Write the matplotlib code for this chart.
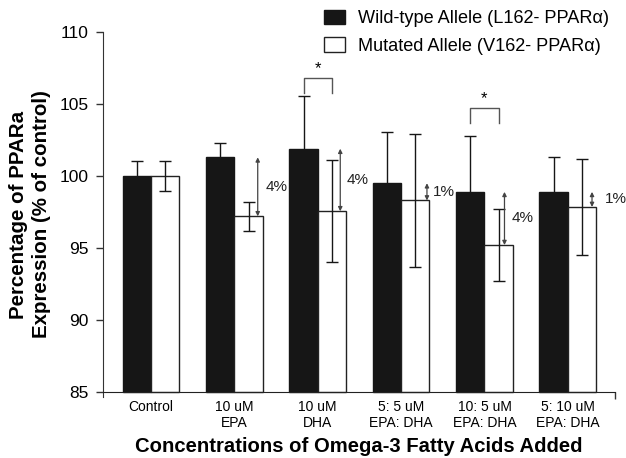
import numpy as np
import matplotlib
matplotlib.use("Agg")
import matplotlib.pyplot as plt

plt.rcParams['font.family'] = ['Liberation Sans', 'DejaVu Sans']

categories = ['Control', '10 uM\nEPA', '10 uM\nDHA', '5: 5 uM\nEPA: DHA',
              '10: 5 uM\nEPA: DHA', '5: 10 uM\nEPA: DHA']
wild = [100.0, 101.3, 101.9, 99.5, 98.9, 98.9]
wild_err = [1.05, 1.0, 3.65, 3.55, 3.9, 2.45]
mutated = [100.0, 97.2, 97.55, 98.3, 95.2, 97.85]
mutated_err = [1.05, 1.0, 3.55, 4.65, 2.52, 3.35]
diff_labels = ['', '4%', '4%', '1%', '4%', '1%']
label_offsets = [0, 0.37, 0.35, 0.38, 0.33, 0.45]
arrow_offsets = [0, 0.28, 0.27, 0.31, 0.24, 0.29]
sig_groups = [2, 4]
sig_levels = [105.8, 103.7]

x = np.arange(len(categories))
w = 0.34
base = 85

fig = plt.figure(figsize=(6.26, 4.58), dpi=100)
ax = fig.add_axes([0.164, 0.1338, 0.819, 0.7957])

ax.bar(x - w/2, np.array(wild) - base, w, bottom=base, color='#161616',
       edgecolor='#161616', linewidth=1, label='Wild-type Allele (L162- PPAR\u03b1)')
ax.bar(x + w/2, np.array(mutated) - base, w, bottom=base, color='white',
       edgecolor='#222222', linewidth=1, label='Mutated Allele (V162- PPAR\u03b1)')
ax.errorbar(x - w/2, wild, yerr=wild_err, fmt='none', ecolor='#161616',
            elinewidth=1.0, capsize=4, capthick=1.0, zorder=3)
ax.errorbar(x + w/2, mutated, yerr=mutated_err, fmt='none', ecolor='#161616',
            elinewidth=1.0, capsize=4, capthick=1.0, zorder=3)

# difference arrows next to the mutated bars
for i in range(1, len(categories)):
    xa = x[i] + arrow_offsets[i]
    ax.annotate('', xy=(xa, mutated[i]), xytext=(xa, wild[i]),
                arrowprops=dict(arrowstyle='<|-|>', color='#444444', lw=0.9,
                                mutation_scale=6, shrinkA=0, shrinkB=0))
    ax.text(x[i] + label_offsets[i], (wild[i] + mutated[i]) / 2, diff_labels[i],
            fontsize=11, va='center', ha='left', color='#222222')

# significance brackets
for g, lev in zip(sig_groups, sig_levels):
    xl, xr = x[g] - w/2, x[g] + w/2
    ax.plot([xl, xl, xr, xr], [lev, lev + 1.0, lev + 1.0, lev],
            color='#555555', lw=1.0, clip_on=False)
    ax.text(x[g], lev + 1.15, '*', ha='center', va='bottom', fontsize=12)

ax.set_xlim(-0.58, 5.57)
ax.set_ylim(84.65, 110)
ax.set_yticks([85, 90, 95, 100, 105, 110])
ax.set_xticks(x)
ax.set_xticklabels(categories, fontsize=12, linespacing=0.98)
ax.set_xticks([5.57], minor=True)
ax.tick_params(axis='x', which='major', length=0, pad=6)
ax.tick_params(axis='x', which='minor', length=5, width=1, color='#333333')
ax.tick_params(axis='y', length=5, width=1, pad=5, labelsize=12.5, color='#333333')

for s in ['top', 'right']:
    ax.spines[s].set_visible(False)
ax.spines['bottom'].set_position(('data', 85))
ax.spines['left'].set_color('#333333')
ax.spines['bottom'].set_color('#222222')

ax.set_xlabel('Concentrations of Omega-3 Fatty Acids Added', fontsize=14.6,
              fontweight='bold', labelpad=5)
ax.set_ylabel('Percentage of PPARa\nExpression (% of control)', fontsize=14.8,
              fontweight='bold', linespacing=1.22, va='center')
ax.yaxis.set_label_coords(-0.142, 0.5)

ax.legend(loc='upper left', bbox_to_anchor=(324 / 626, 1 - 10 / 458),
          bbox_transform=fig.transFigure, frameon=False, fontsize=13.1,
          handlelength=1.15, handleheight=0.82, handletextpad=0.7,
          labelspacing=0.55, borderpad=0, borderaxespad=0)

fig.savefig('out.png', dpi=100)
